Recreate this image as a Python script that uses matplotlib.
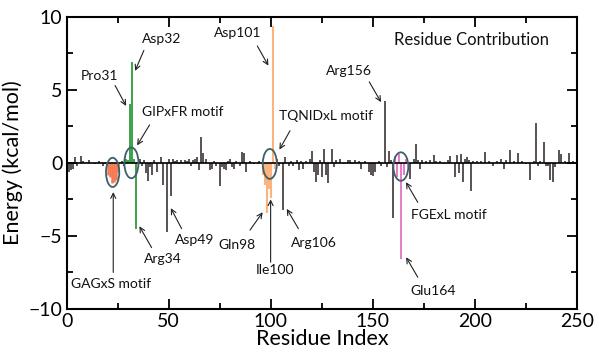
import numpy as np
import matplotlib.pyplot as plt
from matplotlib.patches import Ellipse
from matplotlib.ticker import MultipleLocator

plt.rcParams['font.family'] = ['Lato', 'DejaVu Sans']

# per-residue energy contributions (kcal/mol)
res_other = [1, 2, 3, 4, 5, 7, 8, 11, 14, 16, 18, 19, 27, 28, 36, 37, 38, 39, 40, 41,
             42, 43, 44, 46, 47, 49, 50, 51, 52, 53, 54, 55, 56, 58, 59, 60, 61, 62, 63, 64,
             65, 66, 67, 68, 70, 71, 72, 73, 75, 76, 77, 78, 79, 80, 81, 82, 83, 85, 86, 87,
             88, 90, 92, 94, 103, 104, 106, 107, 109, 110, 111, 113, 114, 115, 116, 117, 119, 120, 121, 122,
             123, 124, 125, 126, 127, 128, 130, 131, 132, 134, 136, 138, 139, 140, 141, 143, 144, 146, 148, 149,
             150, 151, 153, 154, 156, 157, 158, 159, 160, 168, 170, 171, 172, 173, 174, 176, 178, 180, 181, 183,
             185, 187, 188, 190, 191, 192, 193, 194, 195, 196, 197, 198, 199, 201, 203, 205, 207, 209, 211, 213,
             214, 215, 217, 219, 221, 223, 225, 227, 229, 230, 231, 232, 234, 235, 236, 237, 238, 239, 241, 242,
             244, 246, 248]
e_other = [-0.6, -0.5, -0.4, 0.4, -0.2, 0.5, 0.1, 0.2, -0.1, 0.1, -0.2, -0.1, 0.1, -0.2, 0.3, -0.2, 0.2, -0.7, -1.25, -0.3,
           -0.8, 0.2, -0.6, 0.4, -1.5, -4.7, 0.3, -2.3, 0.3, 0.1, 0.2, -0.1, 0.2, 0.2, 0.1, 0.3, -0.2, 0.2, 0.3, 0.4,
           -0.5, 1.8, 0.7, 0.3, -0.5, -0.4, 0.1, -0.2, -1.55, -0.3, -0.4, -0.5, 0.1, 0.3, -0.3, -0.4, 0.1, -0.2, 0.75, 0.7,
           -0.65, 0.1, -0.1, 0.1, 0.3, -0.2, -3.25, 0.4, -0.2, 0.1, -0.2, 0.2, -0.5, 0.1, -0.4, 0.1, 0.3, 0.8, -0.6, -1.3,
           -0.8, 0.2, -1.0, 0.95, -0.8, -1.35, 0.95, -0.3, 0.2, 0.3, -0.1, 0.2, 0.2, -0.1, 0.2, 0.1, -0.4, 0.1, -0.6, -0.8,
           -0.9, -0.6, 0.1, -0.2, 4.25, -0.3, 0.8, 0.2, -3.8, -1.1, 0.3, 1.3, 0.2, -0.4, 0.2, 0.1, 0.2, 0.55, 0.1, 0.1,
           -0.1, 0.2, 0.5, -1.0, 0.55, -0.7, 0.6, -1.3, 0.3, 0.4, 0.2, -1.95, 0.1, 0.1, 0.1, 0.75, 0.1, -0.2, 0.1, 0.3,
           -0.4, 0.2, 0.9, 0.1, 0.65, 0.1, -0.1, -1.15, 0.1, 2.7, -0.2, 0.1, 1.4, -0.2, -0.2, -1.2, -1.3, -0.3, 0.9, 0.6,
           0.1, 0.65, 0.1]

res_gagxs = [20, 21, 22, 23, 24, 25]
e_gagxs = [-0.85, -1.0, -1.4, -1.3, -1.2, -0.6]

res_gipxfr = [29, 30, 31, 32, 33, 34]
e_gipxfr = [0.3, 0.2, 4.0, 6.9, 0.3, -4.5]

res_tqnidxl = [96, 97, 98, 99, 100, 101, 102]
e_tqnidxl = [-0.8, -1.5, -3.4, -1.8, -2.4, 9.4, -0.4]

res_fgexl = [161, 162, 163, 164, 165, 166]
e_fgexl = [0.5, -1.0, 0.6, -6.6, -0.8, 0.3]

fig = plt.figure(figsize=(5.94, 3.58), dpi=100)
ax = fig.add_axes([0.1123, 0.137, 0.8591, 0.816])

ax.vlines(res_other, 0, e_other, color='#3c3535', linewidth=1.2)
ax.vlines(res_gagxs, 0, e_gagxs, color='#f47a55', linewidth=1.8)
ax.vlines(res_gipxfr, 0, e_gipxfr, color='#2e9a3c', linewidth=1.3)
ax.vlines(res_tqnidxl, 0, e_tqnidxl, color='#fbb47e', linewidth=1.5)
ax.vlines(res_fgexl, 0, e_fgexl, color='#e46fc3', linewidth=1.3)
ax.axhline(0, color='black', linewidth=1.2, zorder=3)

# motif circles
ell_col = '#3f5f6a'
for cx, cy, w, h in [(22.5, -0.65, 6.5, 2.0), (31.7, 0.0, 6.9, 2.1),
                     (99.5, -0.07, 6.9, 2.05), (163.7, -0.25, 7.3, 1.95)]:
    ax.add_patch(Ellipse((cx, cy), w, h, fill=False, edgecolor=ell_col, linewidth=1.3, zorder=4))

# labels and arrows: (text, text pos, arrow start, arrow tip)
notes = [
    ("Pro31", (16.3, 5.96), (23.7, 5.3), (29.1, 3.9)),
    ("Asp32", (46.3, 8.45), (37.8, 7.7), (33.5, 6.3)),
    ("GIPxFR motif", (57, 3.5), (40.6, 2.6), (34.5, 1.2)),
    ("Asp101", (83.8, 8.88), (93.4, 8.0), (98.8, 6.66)),
    ("TQNIDxL motif", (127, 3.24), (109.4, 2.2), (104.2, 0.91)),
    ("Arg156", (138.3, 6.32), (148.2, 5.55), (154, 4.16)),
    ("GAGxS motif", (21.5, -8.29), (22.8, -7.5), (22.8, -2.0)),
    ("Arg34", (47.2, -6.58), (41.6, -5.8), (35.6, -4.34)),
    ("Asp49", (62.9, -5.25), (56.3, -4.5), (51, -3.1)),
    ("Gln98", (83.5, -5.6), (89.8, -4.6), (96, -3.38)),
    ("Ile100", (102.2, -7.3), (99.9, -6.8), (99.9, -2.5)),
    ("Arg106", (121, -5.48), (113.5, -4.5), (107.8, -3.15)),
    ("FGExL motif", (187.3, -3.54), (172, -2.7), (166.2, -1.32)),
    ("Glu164", (179.4, -8.8), (172, -7.83), (166.3, -6.46)),
]
for label, tpos, start, tip in notes:
    ax.text(tpos[0], tpos[1], label, ha='center', va='center', fontsize=10, color='#111111')
    ax.annotate('', xy=tip, xytext=start,
                arrowprops=dict(arrowstyle='->', color='#222222', linewidth=0.8,
                                shrinkA=0, shrinkB=0, mutation_scale=9))

ax.text(198.5, 8.38, "Residue Contribution", ha='center', va='center', fontsize=12, color='#111111')

ax.set_xlim(0, 250)
ax.set_ylim(-10, 10)
ax.xaxis.set_major_locator(MultipleLocator(50))
ax.xaxis.set_minor_locator(MultipleLocator(25))
ax.yaxis.set_major_locator(MultipleLocator(5))
ax.yaxis.set_minor_locator(MultipleLocator(2.5))
ax.tick_params(which='both', direction='in', top=True, right=True, width=1.3, labelsize=14, pad=3)
ax.tick_params(which='major', length=7)
ax.tick_params(which='minor', length=4)
for s in ax.spines.values():
    s.set_linewidth(1.5)

ax.set_xlabel("Residue Index", fontsize=15.5, labelpad=-1)
ax.set_ylabel("Energy (kcal/mol)", fontsize=15.5, labelpad=4)

fig.savefig("out.png", dpi=100)
